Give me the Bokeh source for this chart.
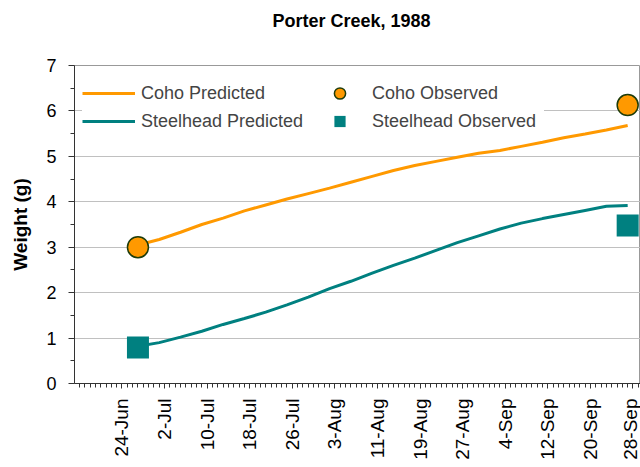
import math
from bokeh.plotting import figure
from bokeh.models import FixedTicker, Legend, LegendItem, Range1d, Title
from bokeh.embed import file_html
from bokeh.resources import INLINE

# x = days after 24-Jun-1988
pred_days = [3, 7, 11, 15, 19, 23, 27, 31, 35, 39, 43, 47, 51, 55, 59, 63, 67, 71, 75, 79, 83, 87, 91, 95]
coho_pred = [3.05, 3.17, 3.33, 3.50, 3.64, 3.80, 3.93, 4.06, 4.18, 4.30, 4.43, 4.56,
             4.69, 4.80, 4.89, 4.98, 5.07, 5.13, 5.22, 5.31, 5.41, 5.49, 5.58, 5.68]
steel_pred = [0.82, 0.90, 1.02, 1.15, 1.30, 1.43, 1.57, 1.73, 1.90, 2.09, 2.25, 2.43,
              2.60, 2.76, 2.93, 3.10, 3.25, 3.40, 3.53, 3.63, 3.72, 3.81, 3.90, 3.92]
obs_days = [3, 95]
coho_obs = [3.00, 6.13]
steel_obs = [0.79, 3.48]
tick_days = [0, 8, 16, 24, 32, 40, 48, 56, 64, 72, 80, 88, 96]
tick_labels = ["24-Jun", "2-Jul", "10-Jul", "18-Jul", "26-Jul", "3-Aug", "11-Aug",
               "19-Aug", "27-Aug", "4-Sep", "12-Sep", "20-Sep", "28-Sep"]
y_ticks = [0, 1, 2, 3, 4, 5, 6, 7]
y_minor = [0.5, 1.5, 2.5, 3.5, 4.5, 5.5, 6.5]

FONT = "Liberation Sans"
ORANGE = "#FF9900"
TEAL = "#008080"

p = figure(width=640, height=467, output_backend="svg", toolbar_location=None,
           x_range=Range1d(-8.92, 97.41), y_range=Range1d(0, 7),
           min_border_left=74, min_border_right=0, min_border_top=65, min_border_bottom=84)
p.background_fill_color = "white"
p.border_fill_color = "white"
p.outline_line_color = "#999999"

# spacer (closest to frame) then the real title above it
p.add_layout(Title(text=" ", text_font=FONT, text_font_size="20px", standoff=6), "above")
p.add_layout(Title(text="Porter Creek, 1988", text_font=FONT, text_font_style="bold",
                   text_font_size="18px", text_color="black", align="left",
                   offset=198, standoff=10), "above")

# axes
p.xaxis.ticker = FixedTicker(ticks=tick_days, minor_ticks=list(range(-8, 98)))
p.xaxis.major_label_overrides = {d: l for d, l in zip(tick_days, tick_labels)}
p.xaxis.major_label_orientation = math.pi / 2
p.xaxis.major_label_text_font = FONT
p.xaxis.major_label_text_font_size = "19px"
p.xaxis.major_label_standoff = 10
p.xaxis.major_tick_in = 0
p.xaxis.major_tick_out = 5
p.xaxis.minor_tick_in = 0
p.xaxis.minor_tick_out = 4

p.yaxis.ticker = FixedTicker(ticks=y_ticks, minor_ticks=y_minor)
p.yaxis.major_label_text_font = FONT
p.yaxis.major_label_text_font_size = "18px"
p.yaxis.major_label_standoff = 12
p.yaxis.major_tick_in = 0
p.yaxis.major_tick_out = 6
p.yaxis.minor_tick_in = 0
p.yaxis.minor_tick_out = 4
p.yaxis.axis_label = "Weight (g)"
p.yaxis.axis_label_text_font = FONT
p.yaxis.axis_label_text_font_style = "bold"
p.yaxis.axis_label_text_font_size = "19px"
p.yaxis.axis_label_standoff = 12

for ax in (p.xaxis, p.yaxis):
    ax.axis_line_color = "#333333"
    ax.major_tick_line_color = "#333333"
    ax.minor_tick_line_color = "#333333"
    ax.major_label_text_color = "black"
    ax.axis_label_text_color = "black"

p.xgrid.visible = False
p.ygrid.ticker = FixedTicker(ticks=y_ticks)
p.ygrid.grid_line_color = "#c0c0c0"
p.ygrid.grid_line_width = 1

l1 = p.line(pred_days, coho_pred, line_color=ORANGE, line_width=3)
l2 = p.line(pred_days, steel_pred, line_color=TEAL, line_width=3)
s1 = p.scatter(obs_days, coho_obs, marker="circle", size=21, fill_color=ORANGE,
               line_color="#1E3C0A", line_width=1.5)
s2 = p.scatter(obs_days, steel_obs, marker="square", size=22, fill_color=TEAL,
               line_color=None)

legend = Legend(items=[
    LegendItem(label="Coho Predicted", renderers=[l1]),
    LegendItem(label="Steelhead Predicted", renderers=[l2]),
    LegendItem(label="Coho Observed", renderers=[s1]),
    LegendItem(label="Steelhead Observed", renderers=[s2]),
], ncols=2, orientation="vertical", location=(8, 248), margin=0, padding=10,
    glyph_width=53, glyph_height=28, label_height=20, label_width=172,
    label_standoff=6, spacing=0,
    label_text_font=FONT, label_text_font_size="18px",
    background_fill_color="white", background_fill_alpha=1.0,
    border_line_color=None)
p.add_layout(legend)

open("out.html", "w").write(file_html(p, INLINE))
